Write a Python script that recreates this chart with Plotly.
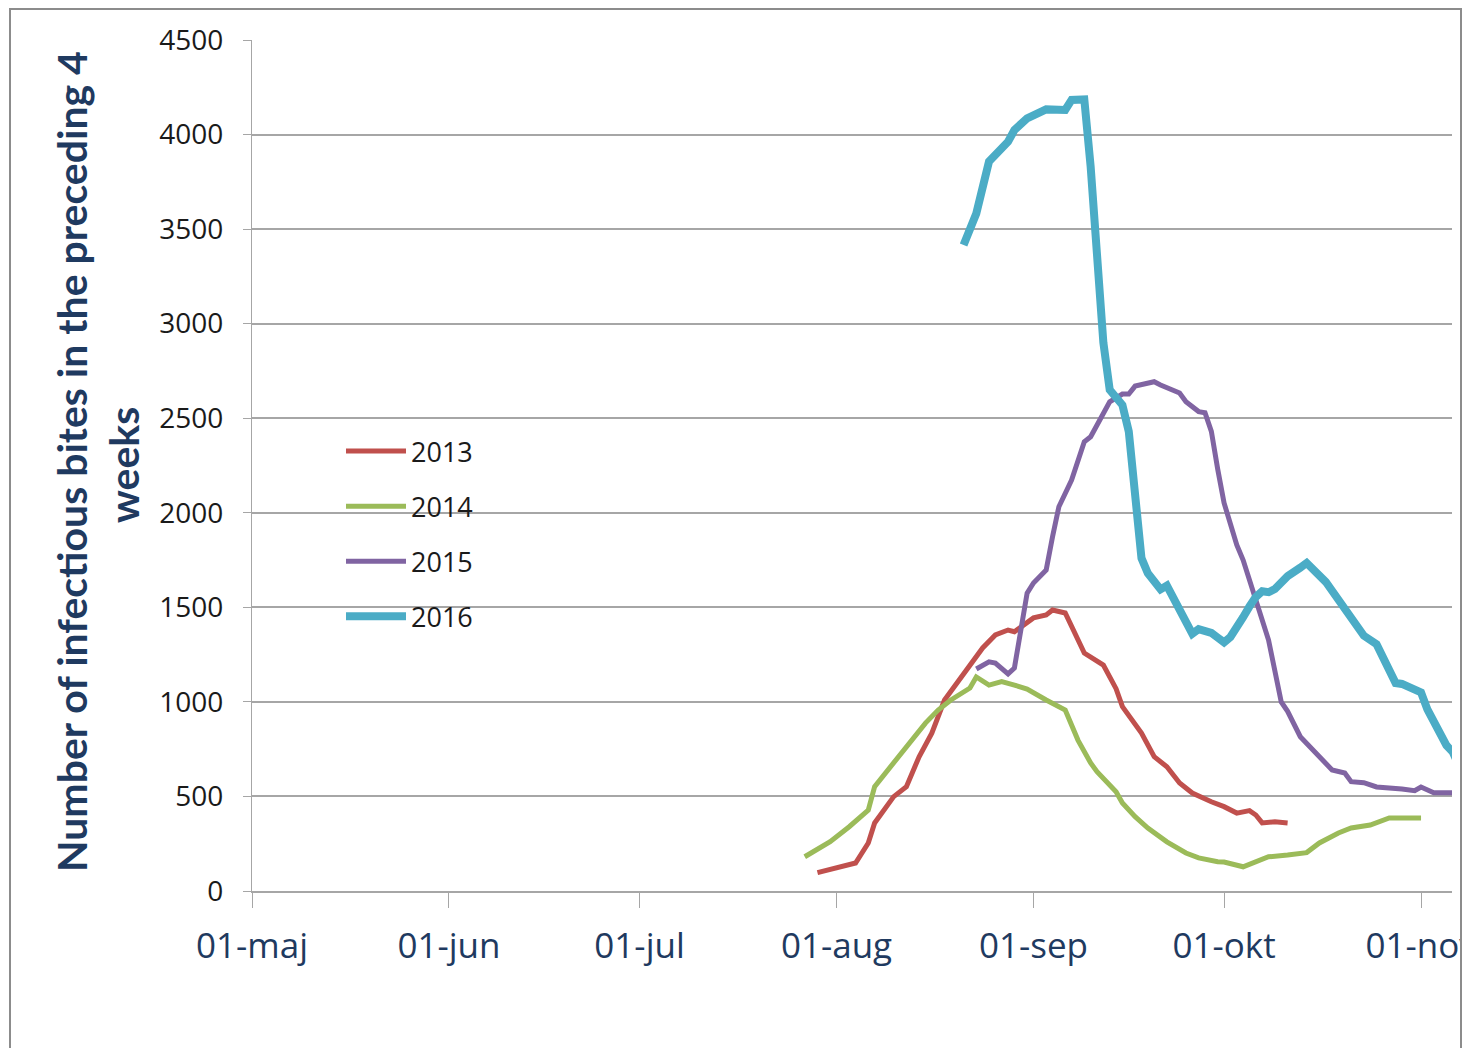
import plotly.graph_objects as go

# ---- data (all seasons mapped onto a common calendar year) ----
dates_2013 = ["2016-07-29", "2016-08-02", "2016-08-04", "2016-08-06", "2016-08-07", "2016-08-10",
              "2016-08-12", "2016-08-14", "2016-08-16", "2016-08-18", "2016-08-21", "2016-08-24",
              "2016-08-26", "2016-08-28", "2016-08-29", "2016-09-01", "2016-09-03", "2016-09-04",
              "2016-09-06", "2016-09-08", "2016-09-09", "2016-09-12", "2016-09-14", "2016-09-15",
              "2016-09-18", "2016-09-20", "2016-09-22", "2016-09-24", "2016-09-26", "2016-09-29",
              "2016-10-01", "2016-10-03", "2016-10-05", "2016-10-06", "2016-10-07", "2016-10-09",
              "2016-10-11"]
values_2013 = [97, 128, 148, 254, 360, 499, 552, 710, 835, 1010, 1153, 1285, 1354, 1380, 1371, 1444,
               1460, 1486, 1470, 1338, 1258, 1195, 1070, 975, 835, 710, 657, 571, 518, 472, 446, 412,
               425, 402, 360, 366, 360]

dates_2014 = ["2016-07-27", "2016-07-31", "2016-08-03", "2016-08-06", "2016-08-07", "2016-08-10",
              "2016-08-13", "2016-08-15", "2016-08-17", "2016-08-19", "2016-08-22", "2016-08-23",
              "2016-08-25", "2016-08-27", "2016-08-29", "2016-08-31", "2016-09-03", "2016-09-06",
              "2016-09-08", "2016-09-10", "2016-09-11", "2016-09-14", "2016-09-15", "2016-09-17",
              "2016-09-19", "2016-09-22", "2016-09-25", "2016-09-27", "2016-09-30", "2016-10-01",
              "2016-10-04", "2016-10-06", "2016-10-08", "2016-10-11", "2016-10-14", "2016-10-16",
              "2016-10-19", "2016-10-21", "2016-10-24", "2016-10-27", "2016-11-01"]
values_2014 = [181, 261, 340, 428, 552, 677, 798, 888, 957, 1010, 1073, 1132, 1089, 1107, 1089, 1068,
               1010, 957, 798, 677, 631, 525, 465, 393, 333, 260, 201, 175, 155, 153, 128, 155, 181,
               190, 203, 254, 307, 333, 349, 386, 386]

dates_2015 = ["2016-08-23", "2016-08-25", "2016-08-26", "2016-08-28", "2016-08-29", "2016-08-30",
              "2016-08-31", "2016-09-01", "2016-09-03", "2016-09-04", "2016-09-05", "2016-09-07",
              "2016-09-09", "2016-09-10", "2016-09-12", "2016-09-13", "2016-09-15", "2016-09-16",
              "2016-09-17", "2016-09-20", "2016-09-21", "2016-09-24", "2016-09-25", "2016-09-27",
              "2016-09-28", "2016-09-29", "2016-09-30", "2016-10-01", "2016-10-03", "2016-10-04",
              "2016-10-06", "2016-10-08", "2016-10-10", "2016-10-11", "2016-10-13", "2016-10-16",
              "2016-10-18", "2016-10-20", "2016-10-21", "2016-10-23", "2016-10-25", "2016-10-29",
              "2016-10-31", "2016-11-01", "2016-11-03", "2016-11-06"]
values_2015 = [1174, 1212, 1205, 1148, 1179, 1364, 1575, 1629, 1697, 1873, 2032, 2173, 2376, 2402,
               2527, 2587, 2628, 2628, 2670, 2693, 2676, 2633, 2587, 2535, 2529, 2430, 2230, 2052,
               1830, 1750, 1539, 1327, 1000, 950, 816, 710, 640, 624, 578, 573, 550, 539, 530, 550,
               520, 520]

dates_2016 = ["2016-08-21", "2016-08-23", "2016-08-25", "2016-08-27", "2016-08-28", "2016-08-29",
              "2016-08-31", "2016-09-03", "2016-09-06", "2016-09-07", "2016-09-09", "2016-09-10",
              "2016-09-11", "2016-09-12", "2016-09-13", "2016-09-14", "2016-09-15", "2016-09-16",
              "2016-09-17", "2016-09-18", "2016-09-19", "2016-09-20", "2016-09-21", "2016-09-22",
              "2016-09-23", "2016-09-24", "2016-09-25", "2016-09-26", "2016-09-27", "2016-09-28",
              "2016-09-29", "2016-09-30", "2016-10-01", "2016-10-02", "2016-10-03", "2016-10-04",
              "2016-10-05", "2016-10-06", "2016-10-07", "2016-10-08", "2016-10-09", "2016-10-10",
              "2016-10-11", "2016-10-13", "2016-10-14", "2016-10-17", "2016-10-20", "2016-10-23",
              "2016-10-25", "2016-10-28", "2016-10-29", "2016-10-31", "2016-11-01", "2016-11-02",
              "2016-11-03", "2016-11-04", "2016-11-05", "2016-11-06", "2016-11-07"]
values_2016 = [3416, 3583, 3857, 3918, 3962, 4024, 4086, 4133, 4130, 4183, 4186, 3830, 3370, 2900,
               2650, 2605, 2570, 2430, 2120, 1760, 1680, 1636, 1595, 1615, 1554, 1480, 1430, 1360,
               1385, 1375, 1365, 1340, 1315, 1343, 1390, 1448, 1505, 1555, 1585, 1580, 1597, 1635,
               1665, 1710, 1735, 1635, 1500, 1350, 1305, 1100, 1095, 1065, 1050, 960, 900, 830, 770,
               735, 660]

series_names = ["2013", "2014", "2015", "2016"]
series_colors = ["#C0504D", "#9BBB59", "#8064A2", "#4BACC6"]
series_widths = [5, 5, 5, 8]
series_dates = [dates_2013, dates_2014, dates_2015, dates_2016]
series_values = [values_2013, values_2014, values_2015, values_2016]

x_tick_vals = ["2016-05-01", "2016-06-01", "2016-07-01", "2016-08-01", "2016-09-01", "2016-10-01",
               "2016-11-01"]
x_tick_text = ["01-maj", "01-jun", "01-jul", "01-aug", "01-sep", "01-okt", "01-nov"]
y_tick_vals = [0, 500, 1000, 1500, 2000, 2500, 3000, 3500, 4000, 4500]

title_line1 = "Number of infectious bites in the preceding 4"
title_line2 = "weeks"

# ---- figure ----
fig = go.Figure()
for name, col, w, xs, ys in zip(series_names, series_colors, series_widths, series_dates, series_values):
    fig.add_trace(go.Scatter(x=xs, y=ys, mode="lines", name=name, legendgroup=name,
                             line=dict(color=col, width=w, shape="linear")))

OFF = 8  # page body margin
W, H = 1470 - 2 * OFF, 1056 - 2 * OFF
# plot area in page pixels: x 252..1452, y 40..891
L = 252 - OFF
T = 40 - OFF
R = W - (1452 - OFF)
B = H - (891 - OFF)
pw, ph = W - L - R, H - T - B


def px_x(p):  # page pixel -> paper
    return (p - OFF - L) / pw


def px_y(p):
    return (H - B - (p - OFF)) / ph


navy = "#1F3A60"

fig.update_layout(
    width=W, height=H,
    autosize=False,
    margin=dict(l=L, r=R, t=T, b=B, autoexpand=False),
    paper_bgcolor="white", plot_bgcolor="white",
    showlegend=True,
    legend=dict(x=px_x(341), y=px_y(427), xanchor="left", yanchor="top",
                font=dict(family="Open Sans", size=27, color="#1a1a1a"),
                bgcolor="rgba(0,0,0,0)", itemwidth=60, tracegroupgap=17,
                traceorder="grouped"),
    xaxis=dict(type="date", range=["2016-05-01", "2016-11-05 21:00"],
               tickmode="array", tickvals=x_tick_vals, ticktext=x_tick_text,
               showgrid=False, zeroline=False, automargin=False,
               showline=True, linecolor="#a6a6a6", linewidth=1.5,
               ticks="outside", ticklen=15, tickcolor="#a6a6a6", tickwidth=1.2,
               ticklabelstandoff=8, ticklabeloverflow="allow",
               tickfont=dict(family="Open Sans", size=35, color=navy)),
    yaxis=dict(range=[0, 4500], tickmode="array", tickvals=y_tick_vals,
               showgrid=True, gridcolor="#a6a6a6", gridwidth=1.5,
               zeroline=False, automargin=False,
               showline=True, linecolor="#a6a6a6", linewidth=1.2,
               ticks="outside", ticklen=8, tickcolor="#a6a6a6", tickwidth=1.2,
               ticklabelstandoff=14,
               tickfont=dict(family="Open Sans", size=28, color="#1a1a1a")),
    annotations=[
        dict(text=title_line1, textangle=-90, xref="paper", yref="paper",
             x=px_x(71), y=px_y(462), xanchor="center", yanchor="middle", showarrow=False,
             font=dict(family="Lato", size=41, color=navy, weight="bold")),
        dict(text=title_line2, textangle=-90, xref="paper", yref="paper",
             x=px_x(123), y=px_y(465), xanchor="center", yanchor="middle", showarrow=False,
             font=dict(family="Lato", size=41, color=navy, weight="bold")),
    ],
    shapes=[
        dict(type="rect", xref="paper", yref="paper",
             x0=px_x(10), x1=px_x(1461), y0=px_y(1100), y1=px_y(9),
             line=dict(color="#8c8c8c", width=2), fillcolor="rgba(0,0,0,0)", layer="above"),
    ],
)

fig.write_html("out.html")
